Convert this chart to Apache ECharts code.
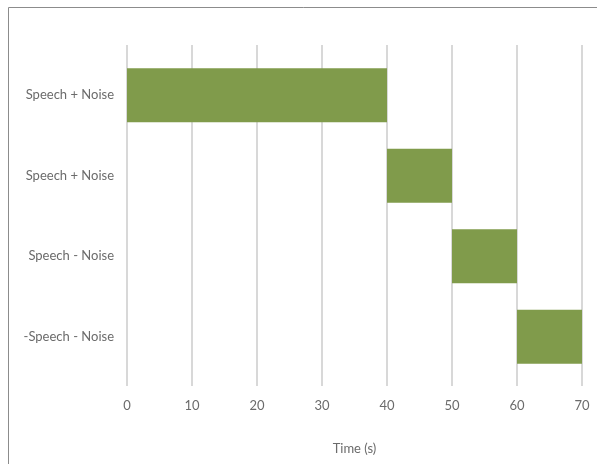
<!DOCTYPE html>
<html>
<head>
<meta charset="utf-8">
<script src="https://cdn.jsdelivr.net/npm/echarts@6/dist/echarts.min.js"></script>
<style>
  html, body { margin: 0; padding: 0; background: #fff; }
  #chart { width: 597px; height: 464px; }
</style>
</head>
<body>
<div id="chart"></div>
<script>
  // conditions, top to bottom
  var categories = ['Speech + Noise', 'Speech + Noise', 'Speech - Noise', '-Speech - Noise'];
  var startTimes = [0, 40, 50, 60];
  var durations = [40, 10, 10, 10];
  var gridColor = '#d8d8d8';
  var textColor = '#6b6b6b';
  var font = 'Lato';

  var chart = echarts.init(document.getElementById('chart'));
  chart.setOption({
    animation: false,
    backgroundColor: '#fff',
    graphic: [{
      type: 'rect',
      shape: { x: 8.5, y: 7.5, width: 800, height: 800 },
      style: { fill: 'none', stroke: '#8c8c8c', lineWidth: 1 },
      silent: true
    }],
    grid: { left: 127, right: 15, top: 55, bottom: 87 },
    xAxis: [{
      type: 'value',
      min: 0,
      max: 70,
      interval: 10,
      position: 'bottom',
      name: 'Time (s)',
      nameLocation: 'middle',
      nameGap: 65,
      nameTextStyle: { color: textColor, fontFamily: font, fontSize: 13 },
      axisLine: { show: false },
      axisTick: { show: true, length: 9, lineStyle: { color: gridColor, width: 2 } },
      axisLabel: { color: textColor, fontFamily: font, fontSize: 13, margin: 22 },
      splitLine: { show: true, lineStyle: { color: gridColor, width: 2 } }
    }, {
      // only used to stretch the grid lines above the plot
      type: 'value',
      min: 0,
      max: 70,
      interval: 10,
      position: 'top',
      axisLine: { show: false },
      axisTick: { show: true, length: 10, lineStyle: { color: gridColor, width: 2 } },
      axisLabel: { show: false },
      splitLine: { show: false }
    }],
    yAxis: {
      type: 'category',
      inverse: true,
      data: categories,
      axisLine: { show: false },
      axisTick: { show: false },
      axisLabel: { color: textColor, fontFamily: font, fontSize: 13, margin: 13 }
    },
    series: [{
      name: 'start',
      type: 'bar',
      stack: 'time',
      silent: true,
      itemStyle: { color: 'transparent' },
      data: startTimes
    }, {
      name: 'duration',
      type: 'bar',
      stack: 'time',
      barCategoryGap: '33%',
      itemStyle: { color: '#809b4b' },
      data: durations
    }]
  });
</script>
</body>
</html>
